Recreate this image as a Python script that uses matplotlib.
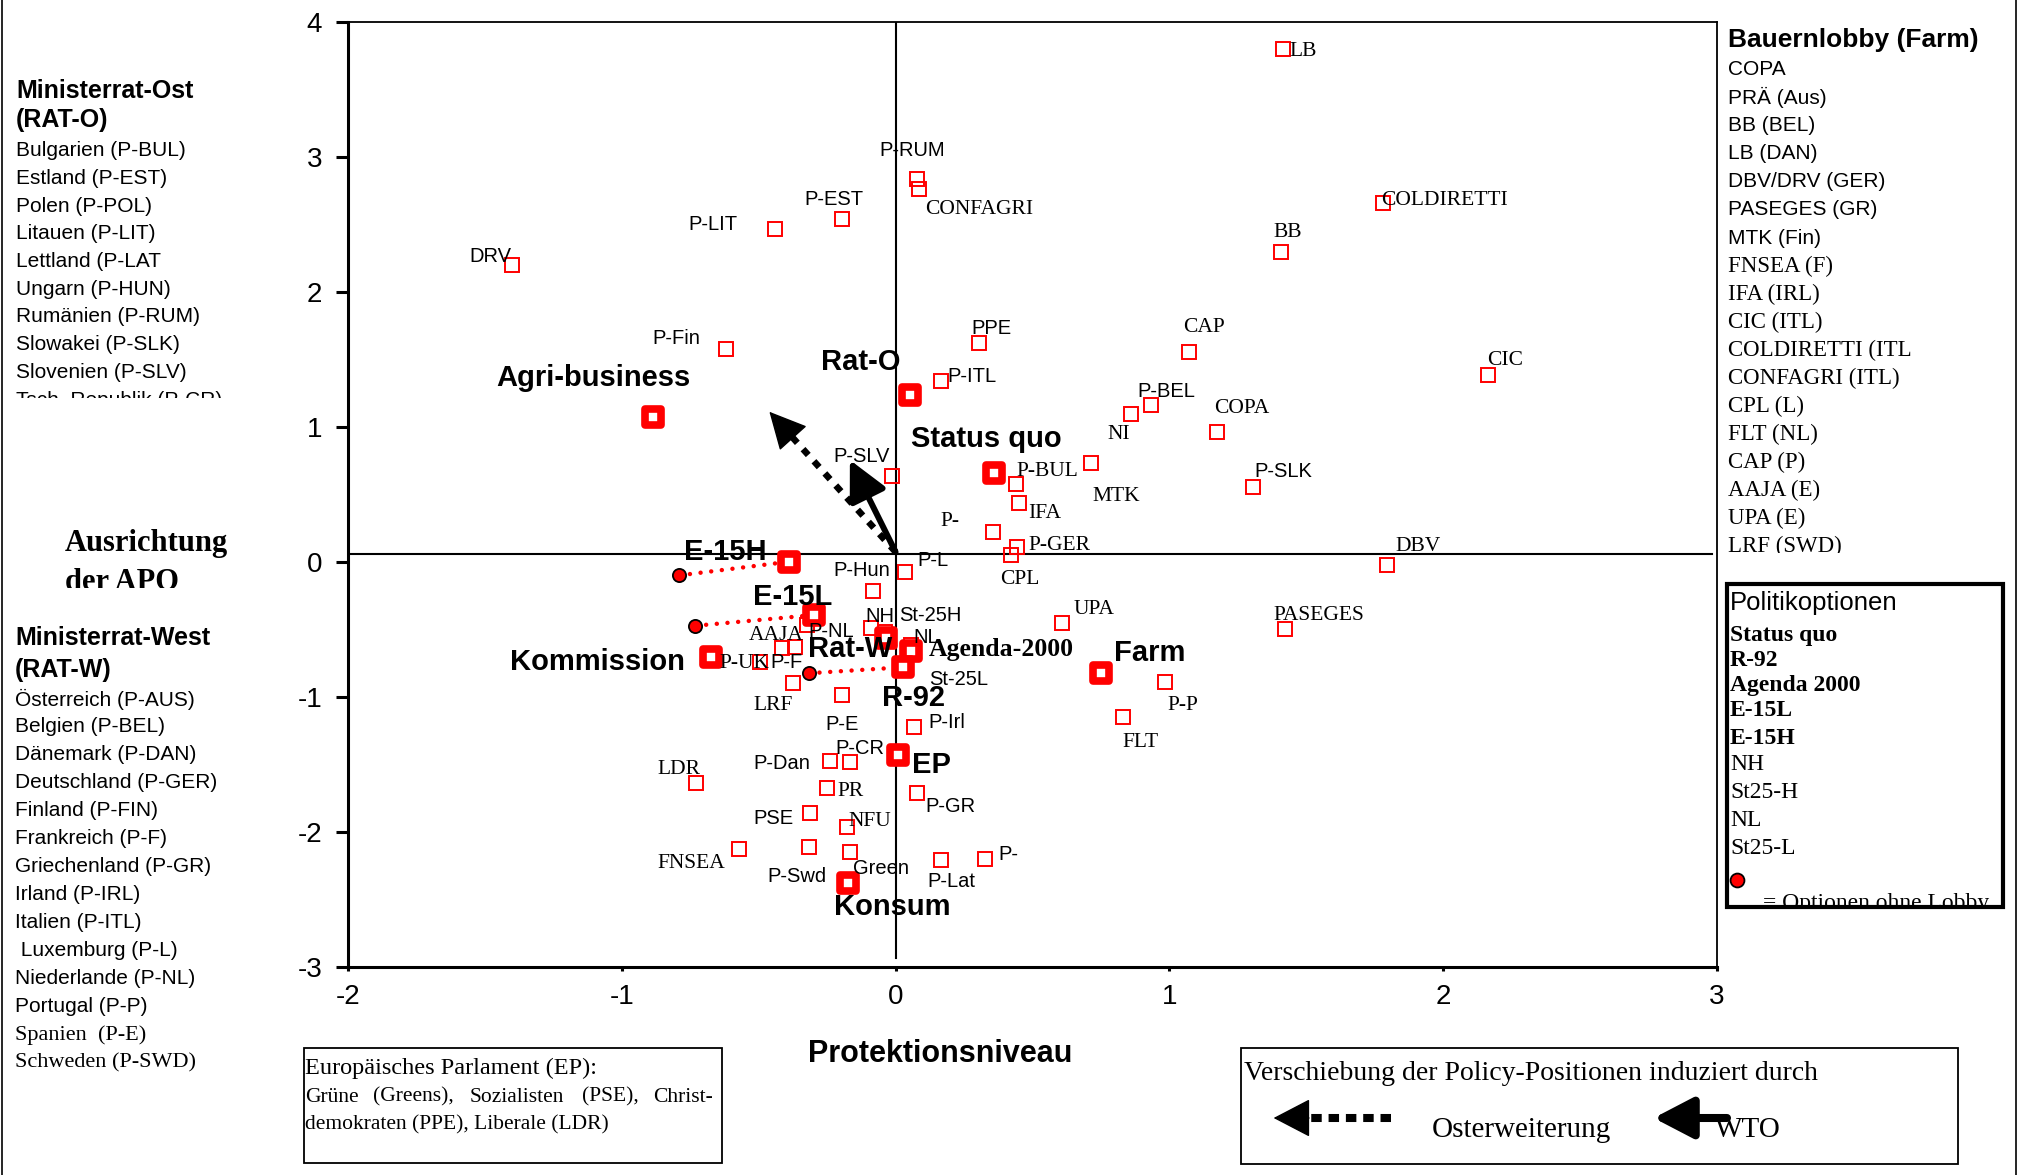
import matplotlib
matplotlib.use("Agg")
import matplotlib.pyplot as plt
from matplotlib.patches import Rectangle
from matplotlib.markers import MarkerStyle
from matplotlib.transforms import Bbox

SANS = "Liberation Sans"
SERIF = "Liberation Serif"
plt.rcParams["font.family"] = [SANS, "DejaVu Sans"]
plt.rcParams["axes.unicode_minus"] = False

# ---------------- data ----------------
x_ticks = [-2, -1, 0, 1, 2, 3]
x_tick_labels = ["-2", "-1", "0", "1", "2", "3"]
y_ticks = [-3, -2, -1, 0, 1, 2, 3, 4]
y_tick_labels = ["-3", "-2", "-1", "0", "1", "2", "3", "4"]

# main policy options / coalitions (big markers)
option_names = ["Agri-business", "Rat-O", "Status quo", "E-15H", "E-15L", "Rat-W",
                "Agenda-2000", "R-92", "Kommission", "Farm", "EP", "Konsum"]
option_x = [-0.887, 0.054, 0.359, -0.390, -0.299, -0.034, 0.055, 0.026, -0.676, 0.752, 0.010, -0.173]
option_y = [1.076, 1.237, 0.657, 0.002, -0.393, -0.565, -0.659, -0.780, -0.706, -0.824, -1.430, -2.380]

# options without lobby (red circles) and the option they are linked to
nolobby_x = [-0.790, -0.731, -0.317]
nolobby_y = [-0.099, -0.472, -0.824]
nolobby_link = ["E-15H", "E-15L", "R-92"]

# individual actors (small hollow squares)
actor_names = ["DRV", "P-LIT", "P-EST", "P-RUM", "CONFAGRI", "P-Fin", "PPE", "P-ITL",
               "LB", "COLDIRETTI", "BB", "CAP", "CIC", "NI", "P-BEL", "COPA", "P-SLK",
               "MTK", "DBV", "PASEGES", "P-P", "FLT", "UPA", "P-SLV", "P-BUL", "IFA",
               "P-", "P-GER", "CPL", "P-L", "P-Hun", "NH", "St-25H", "NL", "St-25L",
               "P-NL", "AAJA", "P-F", "P-UK", "LRF", "P-E", "P-Irl", "P-Dan", "P-CR",
               "LDR", "PR", "P-GR", "PSE", "NFU", "FNSEA", "P-Swd", "Green", "P-Lat", "P-"]
actor_x = [-1.402, -0.442, -0.194, 0.077, 0.084, -0.618, 0.303, 0.165,
           1.415, 1.781, 1.408, 1.071, 2.162, 0.860, 0.933, 1.174, 1.305,
           0.713, 1.795, 1.422, 0.984, 0.830, 0.607, -0.012, 0.441, 0.449,
           0.356, 0.442, 0.420, 0.033, -0.083, -0.091, -0.037, 0.055, 0.018,
           -0.323, -0.366, -0.414, -0.494, -0.376, -0.194, 0.069, -0.238, -0.165,
           -0.728, -0.252, 0.077, -0.311, -0.179, -0.573, -0.317, -0.165, 0.165, 0.325]
actor_y = [2.200, 2.464, 2.541, 2.835, 2.761, 1.576, 1.620, 1.341,
           3.798, 2.657, 2.299, 1.558, 1.385, 1.094, 1.161, 0.965, 0.553,
           0.731, -0.022, -0.499, -0.887, -1.150, -0.454, 0.639, 0.576, 0.435,
           0.224, 0.113, 0.052, -0.072, -0.215, -0.491, -0.519, -0.615, -0.763,
           -0.467, -0.627, -0.639, -0.739, -0.899, -0.985, -1.224, -1.472, -1.479,
           -1.639, -1.672, -1.713, -1.861, -1.965, -2.128, -2.113, -2.146, -2.207, -2.202]

# policy shifts (tail and tip of arrows)
shift_tail = (0.0, 0.074)
osterweiterung_tip = (-0.461, 1.113)
wto_tip = (-0.167, 0.756)

# legend / side texts
east_title = ["Ministerrat-Ost", "(RAT-O)"]
east_members = ["Bulgarien (P-BUL)", "Estland (P-EST)", "Polen (P-POL)", "Litauen (P-LIT)",
                "Lettland (P-LAT", "Ungarn (P-HUN)", "Rumänien (P-RUM)", "Slowakei (P-SLK)",
                "Slovenien (P-SLV)", "Tsch. Republik (P-CR)"]
west_title = ["Ministerrat-West", "(RAT-W)"]
west_members = ["Österreich (P-AUS)", "Belgien (P-BEL)", "Dänemark (P-DAN)",
                "Deutschland (P-GER)", "Finland (P-FIN)", "Frankreich (P-F)",
                "Griechenland (P-GR)", "Irland (P-IRL)", "Italien (P-ITL)",
                " Luxemburg (P-L)", "Niederlande (P-NL)", "Portugal (P-P)",
                "Spanien  (P-E)", "Schweden (P-SWD)"]
farm_title = "Bauernlobby (Farm)"
farm_members = ["COPA", "PRÄ (Aus)", "BB (BEL)", "LB (DAN)", "DBV/DRV (GER)",
                "PASEGES (GR)", "MTK (Fin)", "FNSEA (F)", "IFA (IRL)", "CIC (ITL)",
                "COLDIRETTI (ITL", "CONFAGRI (ITL)", "CPL (L)", "FLT (NL)", "CAP (P)",
                "AAJA (E)", "UPA (E)", "LRF (SWD)"]
policy_title = "Politikoptionen"
policy_items = ["Status quo", "R-92", "Agenda 2000", "E-15L", "E-15H",
                "NH", "St25-H", "NL", "St25-L"]
policy_bold = [True, True, True, True, True, False, False, False, False]

# ---------------- layout / style ----------------
W, H = 2022, 1175
# label placement: (font, dx px, dy px) relative to the marker, anchor left/center
actor_label_style = [
    ("s", -42.6, 9), ("s", -86, 5), ("s", -38, 19), ("s", -37.4, 28.6), ("r", 6.6, -20.7),
    ("s", -74, 11), ("s", -7, 15), ("s", 7, 4),
    ("r", 6.5, -2.4), ("r", -2, 3), ("r", -8, 19.4), ("r", -6, 23.7), ("r", 0, 15),
    ("r", -24, -19.7), ("s", -13.5, 13.6), ("r", -3.4, 23.4), ("s", 1, 15.6),
    ("r", 2, -32.7), ("r", 8.8, 18.3), ("r", -12, 14.3), ("r", 2, -23.3), ("r", 0, -25.4),
    ("r", 12, 13.3), ("s", -58.7, 19.7), ("r", 0.3, 12.3), ("r", 9.3, -10.7),
    ("r", -52.3, 10), ("r", 12, 1), ("r", -10, -25), ("s", 13, 11.7), ("s", -39.3, 21),
    ("s", -5, 11.3), ("s", 14, 17), ("s", 3, 8), ("s", 28.3, -14),
    ("s", 1, -6.7), ("r", -47, 10.7), ("s", -11.5, -14.7), ("r", -41, -1.3),
    ("r", -39.3, -22.4), ("s", -17, -30), ("s", 14, 4.3), ("s", -77, -2.3), ("s", -15, 12.7),
    ("r", -39, 13.3), ("r", 11, -4), ("s", 9, -13.7), ("s", -57, -5.7), ("r", 2, 5.6),
    ("r", -81.3, -14.7), ("s", -41.3, -29.4), ("s", 3, -16.3), ("s", -13, -21.7), ("s", 14, 4.3),
]
option_label_style = [
    ("s", -156.5, 38.8), ("s", -89.8, 33), ("s", -83.3, 34.8), ("s", -105.3, 10),
    ("s", -60.3, 18.3), ("s", -78.7, -10.7), ("r", 18, 1), ("s", -20.3, -31),
    ("s", -201, -4.2), ("s", 12.3, 20), ("s", 14, -10), ("s", -14.7, -23.4),
]
FONTS = {"s": SANS, "r": SERIF}

fig = plt.figure(figsize=(W / 100, H / 100), dpi=100)
AX_L, AX_R, AX_T, AX_B = 348, 1717, 22, 967
ax = fig.add_axes([AX_L / W, 1 - AX_B / H, (AX_R - AX_L) / W, (AX_B - AX_T) / H])
ax.set_xlim(-2, 3)
ax.set_ylim(-3, 4)
ax.set_xticks(x_ticks)
ax.set_xticklabels(x_tick_labels)
ax.set_yticks(y_ticks)
ax.set_yticklabels(y_tick_labels)
ax.tick_params(axis="y", direction="out", length=8.5, width=2.2, labelsize=20, pad=10)
ax.tick_params(axis="x", direction="out", length=3, width=2.2, labelsize=20, pad=9)
for side in ("left", "bottom"):
    ax.spines[side].set_linewidth(2.2)
for side in ("top", "right"):
    ax.spines[side].set_linewidth(1.3)

# cross lines
ax.axhline(0.06, xmin=0, xmax=0.996, color="black", lw=1.5, zorder=1)
ax.axvline(0.0, ymin=0.01, ymax=1, color="black", lw=1.5, zorder=1)

# connectors for options without lobby
opt_pos = {n: (x, y) for n, x, y in zip(option_names, option_x, option_y)}
for cx, cy, link in zip(nolobby_x, nolobby_y, nolobby_link):
    tx, ty = opt_pos[link]
    ax.plot([cx, tx], [cy, ty], color="red", lw=3.2, linestyle=(0, (0.01, 2.4)),
            dash_capstyle="round", zorder=2)
ax.plot(nolobby_x, nolobby_y, "o", ms=9.5, mfc="red", mec="black", mew=1.3, zorder=4)

# actors
ax.plot(actor_x, actor_y, "s", ms=9.5, mfc="none", mec="red", mew=1.4, zorder=3)
for name, x, y, (f, dx, dy) in zip(actor_names, actor_x, actor_y, actor_label_style):
    ax.annotate(name, (x, y), xytext=(dx, dy), textcoords="offset pixels",
                ha="left", va="center", fontsize=15.5 if f == "r" else 14.5,
                family=FONTS[f], zorder=6)

# big option markers
big = MarkerStyle("s", joinstyle="round")
ax.plot(option_x, option_y, linestyle="none", marker=big, ms=11, mfc="white",
        mec="red", mew=5.5, zorder=5)
for name, x, y, (f, dx, dy) in zip(option_names, option_x, option_y, option_label_style):
    ax.annotate(name, (x, y), xytext=(dx, dy), textcoords="offset pixels",
                ha="left", va="center", fontsize=18.5 if f == "r" else 21,
                family=FONTS[f], fontweight="bold", zorder=7)

# shift arrows
HEAD = "-|>,head_length=2.4,head_width=1.2"
ox, oy = osterweiterung_tip
bx = ox + 0.18 * (shift_tail[0] - ox)
by = oy + 0.18 * (shift_tail[1] - oy)
ax.plot([shift_tail[0], bx], [shift_tail[1], by], color="black", lw=4.7,
        dashes=(1.2, 1.3), dash_capstyle="butt", zorder=6)
ax.annotate("", xy=osterweiterung_tip, xytext=(bx, by),
            arrowprops=dict(arrowstyle=HEAD, mutation_scale=10, color="black", lw=1,
                            shrinkA=0, shrinkB=0), zorder=6)
ax.annotate("", xy=wto_tip, xytext=shift_tail,
            arrowprops=dict(arrowstyle=HEAD, mutation_scale=10, color="black", lw=4.3,
                            shrinkA=0, shrinkB=0), zorder=6)

# ---------------- overlay (pixel coordinates) ----------------
ov = fig.add_axes([0, 0, 1, 1], zorder=10)
ov.set_xlim(0, W)
ov.set_ylim(H, 0)
ov.axis("off")


def clip_box(x0, y0, x1, y1):
    # rectangle given in top-down pixel coordinates -> display box
    return Bbox.from_extents(x0, H - y1, x1, H - y0)


def txt(x, y, s, family=SANS, size=15, weight="normal", clip=None, ha="left"):
    t = ov.text(x, y, s, ha=ha, va="center", family=family, fontsize=size,
                fontweight=weight)
    if clip is not None:
        t.set_clip_path(None)
        t.set_clip_box(clip)
        t.set_clip_on(True)
    return t


# figure border lines
ov.plot([1.5, 1.5], [0, H], color="black", lw=1.2)
ov.plot([2016, 2016], [0, H], color="black", lw=1.2)

# left top block
c1 = clip_box(0, 0, 340, 398)
txt(16, 90.7, east_title[0], size=18, weight="bold", clip=c1)
txt(16, 120, east_title[1], size=18, weight="bold", clip=c1)
for i, s in enumerate(east_members):
    txt(16, 150.7 + 27.7 * i, s, size=15, clip=c1)

# orientation label
c2 = clip_box(0, 500, 340, 588)
txt(65, 543, "Ausrichtung", family=SERIF, size=22, weight="bold", clip=c2)
txt(65, 582, "der APO", family=SERIF, size=22, weight="bold", clip=c2)

# left bottom block
txt(15, 638, west_title[0], size=18, weight="bold")
txt(15, 670, west_title[1], size=18, weight="bold")
for i, s in enumerate(west_members):
    serif = i >= len(west_members) - 2
    txt(15, 699 + 27.98 * i, s, family=SERIF if serif else SANS, size=16 if serif else 15)

# right block (farm lobby)
c3 = clip_box(1720, 0, 2015, 553)
txt(1728, 40, farm_title, size=19, weight="bold", clip=c3)
for i, s in enumerate(farm_members):
    serif = i >= 7
    txt(1728, 69.6 + 28.07 * i, s, family=SERIF if serif else SANS,
        size=16.5 if serif else 15, clip=c3)

# policy options box
ov.add_patch(Rectangle((1727, 584), 276, 323, fill=False, lw=3, ec="black"))
c4 = clip_box(1729, 586, 2001, 905)
txt(1730, 603, policy_title, size=18.5, clip=c4)
py_pos = [635, 660, 685, 710, 738, 765, 792, 820, 848]
for s, b, yy in zip(policy_items, policy_bold, py_pos):
    txt(1730, yy, s, family=SERIF, size=17, weight="bold" if b else "normal", clip=c4)
ov.plot([1737], [880], "o", ms=10, mfc="red", mec="black", mew=1.3)
txt(1763, 903, "= Optionen ohne Lobby", family=SERIF, size=17, clip=c4)

# axis title
txt(940, 1053.5, "Protektionsniveau", size=22, weight="bold", ha="center")

# European Parliament box
ov.add_patch(Rectangle((304, 1048), 418, 115, fill=False, lw=1.3, ec="black"))
txt(305, 1068, "Europäisches Parlament (EP):", family=SERIF, size=17.5)
for s, xx in zip(["Grüne", "(Greens),", "Sozialisten", "(PSE),", "Christ-"],
                 [305, 373, 470, 582, 653]):
    txt(xx, 1097, s, family=SERIF, size=15.5)
txt(305, 1125, "demokraten (PPE), Liberale (LDR)", family=SERIF, size=15.5)

# shift legend box
ov.add_patch(Rectangle((1241, 1048), 717, 116, fill=False, lw=1.3, ec="black"))
txt(1244, 1073, "Verschiebung der Policy-Positionen induziert durch", family=SERIF, size=20)
txt(1432, 1130, "Osterweiterung", family=SERIF, size=21)
txt(1715, 1130, "WTO", family=SERIF, size=21)
LHEAD = "-|>,head_length=2.4,head_width=1.25"
ov.plot([1391, 1309], [1118, 1118], color="black", lw=5.8, dashes=(1.3, 0.85),
        dash_capstyle="butt")
ov.annotate("", xy=(1273.6, 1118), xytext=(1309, 1118),
            arrowprops=dict(arrowstyle=LHEAD, mutation_scale=10, color="black", lw=1,
                            shrinkA=0, shrinkB=0))
ov.annotate("", xy=(1653.7, 1118), xytext=(1727, 1118),
            arrowprops=dict(arrowstyle=LHEAD, mutation_scale=10, color="black", lw=5.8,
                            shrinkA=0, shrinkB=0))

fig.savefig("out.png", dpi=100)
